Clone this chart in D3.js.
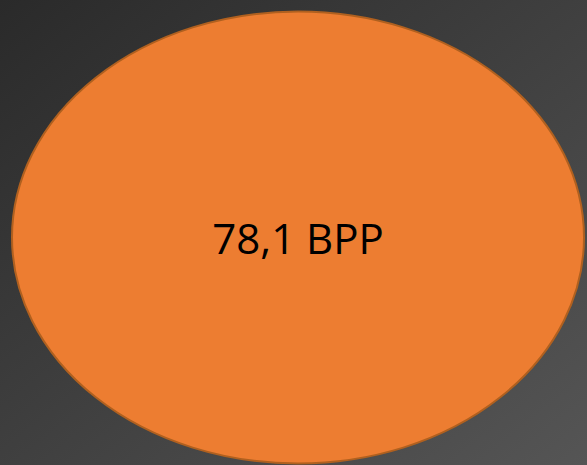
<!DOCTYPE html>
<html>
<head>
<meta charset="utf-8">
<script src="https://cdn.jsdelivr.net/npm/d3@7"></script>
<style>
  html, body { margin: 0; padding: 0; overflow: hidden; background: #333; }
  svg { display: block; }
</style>
</head>
<body>
<svg id="chart" width="587" height="465"></svg>
<script>
// Data
const labels = ["78,1 BPP"];
const values = [78.1];

const W = 587, H = 465;
const svg = d3.select("#chart");

const defs = svg.append("defs");
const grad = defs.append("linearGradient")
  .attr("id", "bg").attr("x1", "0%").attr("y1", "0%").attr("x2", "100%").attr("y2", "100%");
grad.append("stop").attr("offset", "0%").attr("stop-color", "#2a2a2a");
grad.append("stop").attr("offset", "100%").attr("stop-color", "#555555");

svg.append("rect").attr("width", W).attr("height", H).attr("fill", "url(#bg)");

// scales
const x = d3.scaleBand().domain(labels).range([12, 584]);
const y = d3.scaleLinear().domain([0, 1]).range([463.5, 11.5]);

const g = svg.selectAll("g.bubble").data(labels).join("g").attr("class", "bubble");

g.append("ellipse")
  .attr("cx", d => x(d) + x.bandwidth() / 2)
  .attr("cy", (y(0) + y(1)) / 2)
  .attr("rx", x.bandwidth() / 2)
  .attr("ry", (y(0) - y(1)) / 2)
  .attr("fill", "#ED7D31")
  .attr("stroke", "#B0601F")
  .attr("stroke-width", 2);

g.append("text")
  .attr("x", d => x(d) + x.bandwidth() / 2)
  .attr("y", 254)
  .attr("text-anchor", "middle")
  .attr("font-family", "'Open Sans', 'Liberation Sans', sans-serif")
  .attr("font-size", 42)
  .attr("fill", "#000")
  .text(d => d);
</script>
</body>
</html>
